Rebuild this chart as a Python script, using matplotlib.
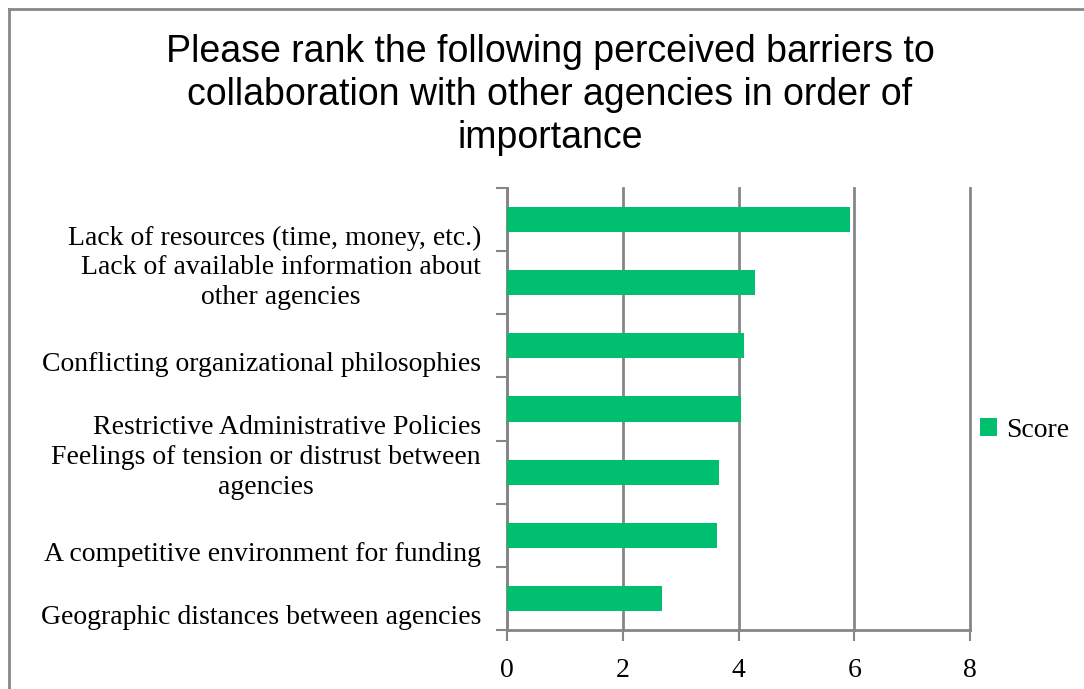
import matplotlib
matplotlib.use("Agg")
import matplotlib.pyplot as plt
from matplotlib.lines import Line2D

# 数据（自下而上）
barriers = [
    "Geographic distances between agencies",
    "A competitive environment for funding",
    "Feelings of tension or distrust between\nagencies",
    "Restrictive Administrative Policies",
    "Conflicting organizational philosophies",
    "Lack of available information about\nother agencies",
    "Lack of resources (time, money, etc.)",
]
scores = [2.68, 3.62, 3.66, 4.05, 4.10, 4.28, 5.93]
x_ticks = [0, 2, 4, 6, 8]

TITLE = ("Please rank the following perceived barriers to\n"
         "collaboration with other agencies in order of\nimportance")
BAR_COLOR = "#00BF6F"
GRID_COLOR = "#868686"
SERIF = "Liberation Serif"

fig = plt.figure(figsize=(10.84, 6.89), dpi=100)
ax = fig.add_axes([507 / 1084, 1 - 630 / 689, (970 - 507) / 1084, (630 - 188) / 689])

pos = list(range(len(barriers)))
ax.barh(pos, scores, height=0.4, color=BAR_COLOR, label="Score", zorder=3)

ax.set_xlim(0, 8)
ax.set_ylim(-0.5, len(barriers) - 0.5)
ax.set_xticks(x_ticks)
ax.set_xticklabels([str(t) for t in x_ticks], fontsize=20, family=SERIF)
ax.tick_params(axis="x", length=8, width=1.5, color=GRID_COLOR, pad=12)

# 类别刻度放在分隔处，标签单独放在中心
ax.set_yticks([p - 0.5 for p in pos] + [len(barriers) - 0.5])
ax.set_yticklabels([])
ax.tick_params(axis="y", length=8, width=1.5, color=GRID_COLOR)
for p, lab in zip(pos, barriers):
    # 单行标签 Excel 会略往下排
    offset = 0 if "\n" in lab else -0.3
    ax.text(-0.45, p + offset, lab, ha="right", va="center", fontsize=20,
            family=SERIF, multialignment="center", linespacing=1.25)

ax.grid(axis="x", color=GRID_COLOR, linewidth=2, zorder=0)
for gl in ax.get_xgridlines():
    gl.set_clip_on(False)
for side in ["top", "right"]:
    ax.spines[side].set_visible(False)
for side in ["left", "bottom"]:
    ax.spines[side].set_color(GRID_COLOR)
    ax.spines[side].set_linewidth(2)

fig.text(550 / 1084, 1 - 95 / 689, TITLE, ha="center", va="center",
         fontsize=27, family="Liberation Sans", linespacing=1.24)

fig.legend(loc="center left", bbox_to_anchor=(980 / 1084, 1 - 430 / 689),
           frameon=False, prop={"family": SERIF, "size": 20},
           borderaxespad=0, borderpad=0,
           handlelength=0.6, handleheight=0.6, handletextpad=0.35)

# 外框（上、左）
fig.add_artist(Line2D([9 / 1084, 1], [1 - 9 / 689, 1 - 9 / 689], color="#888888", lw=2))
fig.add_artist(Line2D([9 / 1084, 9 / 1084], [0, 1 - 9 / 689], color="#888888", lw=2))

fig.savefig("out.png", dpi=100)
